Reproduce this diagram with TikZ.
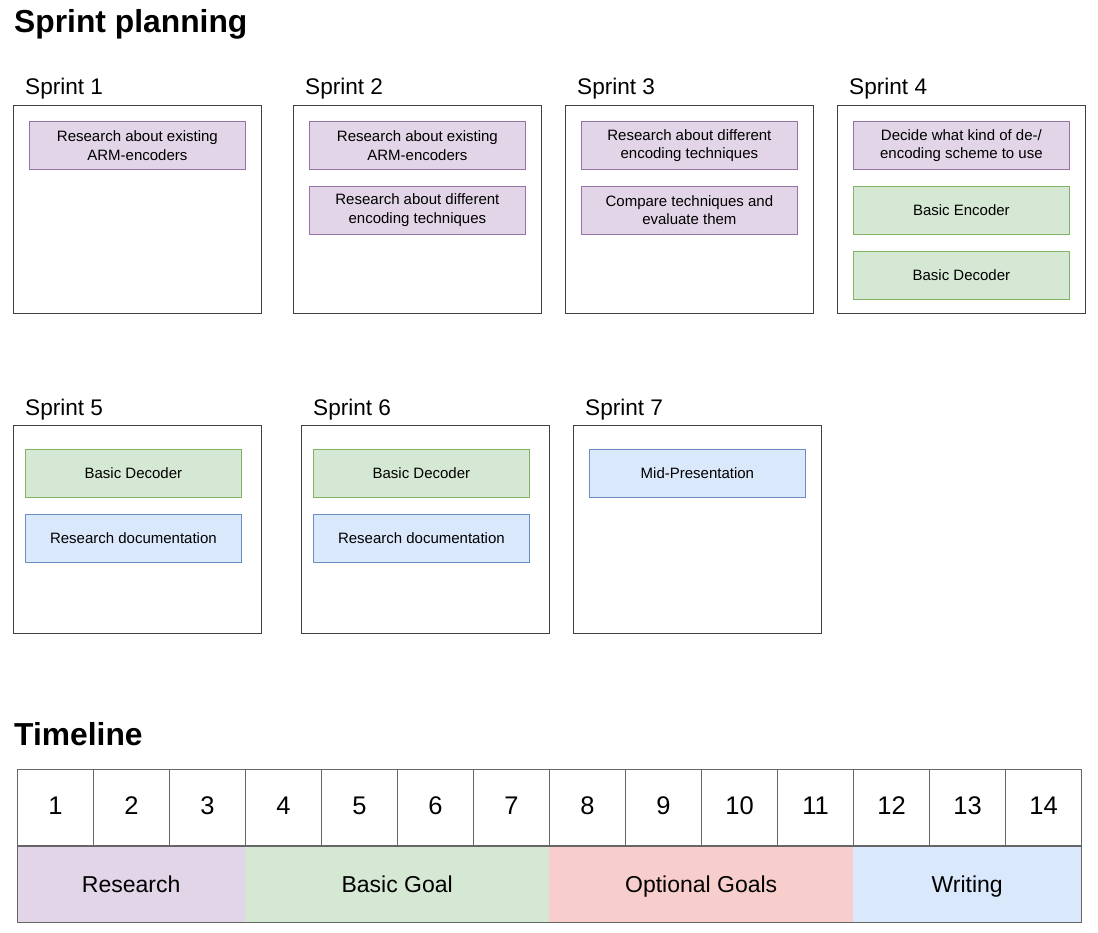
\documentclass[tikz,border=0pt]{standalone}
\usepackage{fontspec}
\setmainfont{Liberation Sans}
\usetikzlibrary{positioning}
\definecolor{resfill}{HTML}{E1D5E7}
\definecolor{resline}{HTML}{9673A6}
\definecolor{basfill}{HTML}{D5E8D4}
\definecolor{basline}{HTML}{82B366}
\definecolor{optfill}{HTML}{F8CECC}
\definecolor{docfill}{HTML}{DAE8FC}
\definecolor{docline}{HTML}{6C8EBF}

\begin{document}
\begin{tikzpicture}[x=1pt, y=-1pt,
    sprint/.style={draw=black!75, line width=1pt, minimum width=248pt, minimum height=208pt, anchor=north west, inner sep=0pt},
    sprintlabel/.style={anchor=base west, inner sep=0pt, font=\fontsize{22.6}{27}\selectfont},
    heading/.style={anchor=base west, inner sep=0pt, font=\fontsize{31.8}{38}\selectfont\bfseries},
    task/.style={line width=0.8pt, minimum width=216pt, minimum height=48pt, inner sep=0pt, align=center, font=\fontsize{15}{18.5}\selectfont},
    restask/.style={task, fill=resfill, draw=resline},
    bastask/.style={task, fill=basfill, draw=basline},
    doctask/.style={task, fill=docfill, draw=docline},
    cell/.style={draw=black!60, line width=1pt, minimum width=76pt, minimum height=76pt, anchor=north west, inner sep=0pt, text height=18.3pt, text depth=4pt, font=\fontsize{25.5}{30}\selectfont},
    phase/.style={minimum height=76pt, anchor=north west, inner sep=0pt, text height=16.5pt, text depth=0pt, font=\fontsize{23}{28}\selectfont},
    frame/.style={draw=black!60, line width=1pt}]
    \useasboundingbox (0,0) rectangle (1098,933);

    % Sprint planning
    \node[heading] (sp) at (14,33) {Sprint planning};
    \foreach \n/\x/\y in {1/13/105, 2/293/105, 3/565/105, 4/837/105, 5/13/425, 6/301/425, 7/573/425} {
        \node[sprint] (s\n) at (\x,\y) {};
        \node[sprintlabel] (l\n) at ([shift={(12,-10)}]s\n.north west) {Sprint \n};
    }

    % Sprint 1
    \node[restask, anchor=north west] (t1a) at ([shift={(16,16)}]s1.north west) {Research about existing\\ARM-encoders};

    % Sprint 2
    \node[restask, anchor=north west] (t2a) at ([shift={(16,16)}]s2.north west) {Research about existing\\ARM-encoders};
    \node[restask, below=16pt of t2a] (t2b) {Research about different\\encoding techniques};

    % Sprint 3
    \node[restask, anchor=north west] (t3a) at ([shift={(16,16)}]s3.north west) {Research about different\\encoding techniques};
    \node[restask, below=16pt of t3a] (t3b) {Compare techniques and\\evaluate them};

    % Sprint 4
    \node[restask, anchor=north west] (t4a) at ([shift={(16,16)}]s4.north west) {Decide what kind of de-/\\encoding scheme to use};
    \node[bastask, below=16pt of t4a] (t4b) {Basic Encoder};
    \node[bastask, below=16pt of t4b] (t4c) {Basic Decoder};

    % Sprint 5
    \node[bastask, anchor=north west] (t5a) at ([shift={(12,24)}]s5.north west) {Basic Decoder};
    \node[doctask, below=16pt of t5a] (t5b) {Research documentation};

    % Sprint 6
    \node[bastask, anchor=north west] (t6a) at ([shift={(12,24)}]s6.north west) {Basic Decoder};
    \node[doctask, below=16pt of t6a] (t6b) {Research documentation};

    % Sprint 7
    \node[doctask, anchor=north west] (t7a) at ([shift={(16,24)}]s7.north west) {Mid-Presentation};

    % Timeline
    \node[heading] (tl) at (14,745) {Timeline};
    \foreach \i in {1,...,14}
        \node[cell] (c\i) at ({17+(\i-1)*76},769) {\i};

    % Phases
    \node[phase, fill=resfill, minimum width=228pt] (research) at (c1.south west) {Research};
    \node[phase, fill=basfill, minimum width=304pt] (basic) at (c4.south west) {Basic Goal};
    \node[phase, fill=optfill, minimum width=304pt] (optional) at (c8.south west) {Optional Goals};
    \node[phase, fill=docfill, minimum width=228pt] (writing) at (c12.south west) {Writing};
    \draw[frame] (c1.north west) rectangle (writing.south east);
    \draw[frame] (c1.south west) -- (c14.south east);
\end{tikzpicture}
\end{document}
